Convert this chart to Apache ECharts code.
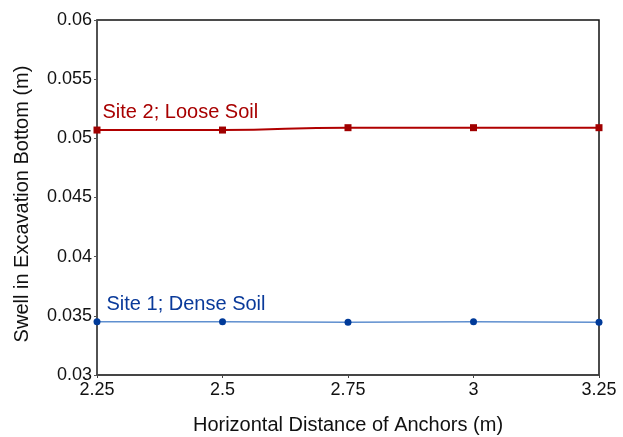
<!DOCTYPE html>
<html>
<head>
<meta charset="utf-8">
<script src="https://cdn.jsdelivr.net/npm/echarts@6/dist/echarts.min.js"></script>
<style>
  html, body { margin: 0; padding: 0; background: #fff; }
  #chart { width: 623px; height: 437px; }
</style>
</head>
<body>
<div id="chart"></div>
<script>
// Anchor spacing (m) and the resulting heave of the excavation floor (m)
const anchorDistance = [2.25, 2.5, 2.75, 3, 3.25];
const looseSoilSwell = [0.0507, 0.0507, 0.0509, 0.0509, 0.0509];
const denseSoilSwell = [0.0345, 0.0345, 0.03445, 0.0345, 0.03445];
const looseSoilName = 'Site 2; Loose Soil';
const denseSoilName = 'Site 1; Dense Soil';

const font = 'Liberation Sans, Arial, sans-serif';

function pairs(xs, ys) {
  return xs.map((x, i) => [x, ys[i]]);
}

// Name label attached to the first point of a series
function withNameLabel(points, name, color, offset) {
  return points.map((p, i) => i === 0 ? {
    value: p,
    label: {
      show: true,
      formatter: name,
      position: 'right',
      offset: offset,
      color: color,
      fontFamily: font,
      fontSize: 20
    }
  } : p);
}

const chart = echarts.init(document.getElementById('chart'));
chart.setOption({
  animation: false,
  backgroundColor: '#fff',
  grid: {
    left: 97, right: 24, top: 20, bottom: 62,
    outerBoundsMode: 'none',
    containLabel: false,
    show: true, borderColor: '#111', borderWidth: 1.5
  },
  xAxis: {
    type: 'value',
    min: 2.25, max: 3.25, interval: 0.25,
    name: 'Horizontal Distance of Anchors (m)',
    nameLocation: 'middle', nameGap: 40,
    nameTextStyle: { fontFamily: font, fontSize: 20, color: '#111' },
    axisLine: { show: true, lineStyle: { color: '#444', width: 1.5 } },
    axisTick: { show: true, length: 3, lineStyle: { color: '#444' } },
    splitLine: { show: false },
    axisLabel: { fontFamily: font, fontSize: 18, color: '#111', margin: 6 }
  },
  yAxis: {
    type: 'value',
    min: 0.03, max: 0.06, interval: 0.005,
    name: 'Swell in Excavation Bottom (m)',
    nameLocation: 'middle', nameGap: 65,
    nameTextStyle: { fontFamily: font, fontSize: 20, color: '#111', padding: [0, 13, 0, 0] },
    axisLine: { show: true, lineStyle: { color: '#555', width: 1.5 } },
    axisTick: { show: true, length: 3, lineStyle: { color: '#555' } },
    splitLine: { show: false },
    axisLabel: { fontFamily: font, fontSize: 18, color: '#111', margin: 5 }
  },
  series: [
    {
      name: looseSoilName,
      type: 'line',
      smooth: true,
      symbol: 'rect',
      symbolSize: 7,
      clip: false,
      lineStyle: { color: '#b00000', width: 2 },
      itemStyle: { color: '#a00000' },
      data: withNameLabel(pairs(anchorDistance, looseSoilSwell), looseSoilName, '#a80000', [-3, -18])
    },
    {
      name: denseSoilName,
      type: 'line',
      smooth: true,
      symbol: 'circle',
      symbolSize: 7,
      clip: false,
      lineStyle: { color: '#5f8fcf', width: 1.5 },
      itemStyle: { color: '#003a99' },
      data: withNameLabel(pairs(anchorDistance, denseSoilSwell), denseSoilName, '#0a3a9a', [1, -17])
    }
  ]
});
</script>
</body>
</html>
